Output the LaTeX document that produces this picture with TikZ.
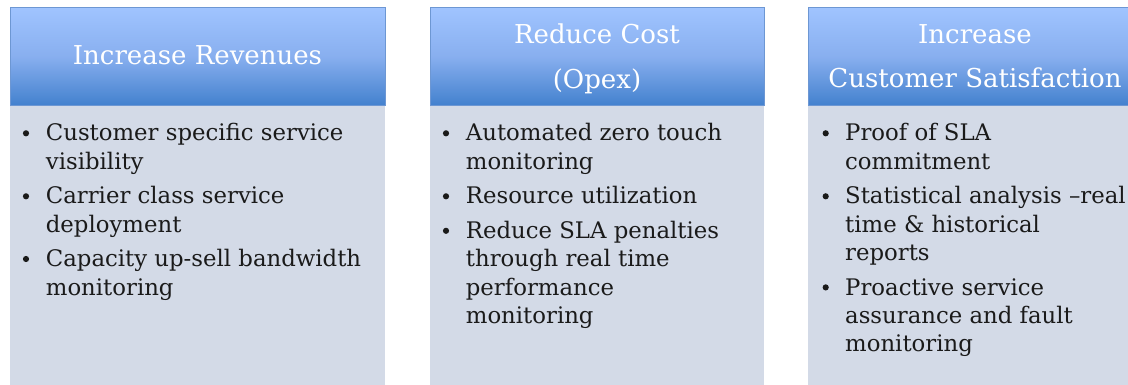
\documentclass[tikz,border=0pt]{standalone}
\usepackage{fontspec}
\setmainfont{DejaVu Serif}
\definecolor{hdtop}{HTML}{A0C4FF}
\definecolor{hdmid}{HTML}{88AFEF}
\definecolor{hdbot}{HTML}{4381CE}
\definecolor{hdline}{HTML}{6D97D3}
\definecolor{bodyfill}{HTML}{D3DAE7}
\definecolor{ink}{HTML}{1A1A1A}
\tikzset{
  header/.style={draw=hdline, line width=0.8pt, top color=hdtop, bottom color=hdbot, middle color=hdmid, inner sep=0pt, anchor=north west},
  bodybox/.style={fill=bodyfill, draw=none, inner sep=0pt, anchor=north west},
  title/.style={text=white, font=\fontsize{26}{30}\selectfont, inner sep=0pt, anchor=base},
  txt/.style={text=ink, font=\fontsize{22.8}{28}\selectfont, inner sep=0pt, anchor=base west},
  dot/.style={circle, fill=ink, draw=none, inner sep=0pt, minimum size=6.2pt, yshift=7.7pt}
}
\begin{document}
\begin{tikzpicture}[x=1pt,y=-1pt]
\useasboundingbox (0,0) rectangle (1128,385);
\clip (0,0) rectangle (1128,385);
% bodies
\node[bodybox, minimum width=375pt, minimum height=282pt] (b1) at (10,104) {};
\node[bodybox, minimum width=334pt, minimum height=282pt] (b2) at (430,104) {};
\node[bodybox, minimum width=334pt, minimum height=282pt] (b3) at (808,104) {};
% headers
\node[header, minimum width=375pt, minimum height=98pt] (h1) at (10,7) {};
\node[header, minimum width=334pt, minimum height=98pt] (h2) at (430,7) {};
\node[header, minimum width=334pt, minimum height=98pt] (h3) at (808,7) {};
% titles
\node[title] (t1) at (197.5,65) {Increase Revenues};
\node[title] (t2a) at (597,43.3) {Reduce Cost};
\node[title] (t2b) at (597,88.5) {(Opex)};
\node[title] (t3a) at (975,43.3) {Increase};
\node[title] (t3b) at (975,88) {Customer Satisfaction};
% column 1
\node[dot] (d11) at (26,141) {};
\node[txt] (l11) at (45.7,141) {Customer specific service};
\node[txt] (l12) at (45.7,169.3) {visibility};
\node[dot] (d12) at (26,204) {};
\node[txt] (l13) at (45.7,204) {Carrier class service};
\node[txt] (l14) at (45.7,232.3) {deployment};
\node[dot] (d13) at (26,266.7) {};
\node[txt] (l15) at (45.7,266.7) {Capacity up-sell bandwidth};
\node[txt] (l16) at (45.7,295) {monitoring};
% column 2
\node[dot] (d21) at (446,141) {};
\node[txt] (l21) at (465.7,141) {Automated zero touch};
\node[txt] (l22) at (465.7,169.3) {monitoring};
\node[dot] (d22) at (446,204) {};
\node[txt] (l23) at (465.7,204) {Resource utilization};
\node[dot] (d23) at (446,238.5) {};
\node[txt] (l24) at (465.7,238.5) {Reduce SLA penalties};
\node[txt] (l25) at (465.7,266.8) {through real time};
\node[txt] (l26) at (465.7,295.1) {performance};
\node[txt] (l27) at (465.7,323.4) {monitoring};
% column 3
\node[dot] (d31) at (825.7,141) {};
\node[txt] (l31) at (845,141) {Proof of SLA};
\node[txt] (l32) at (845,169.3) {commitment};
\node[dot] (d32) at (825.7,204) {};
\node[txt] (l33) at (845,204) {Statistical analysis –real};
\node[txt] (l34) at (845,232.3) {time \& historical};
\node[txt] (l35) at (845,260.6) {reports};
\node[dot] (d33) at (825.7,295.1) {};
\node[txt] (l36) at (845,295.1) {Proactive service};
\node[txt] (l37) at (845,323.4) {assurance and fault};
\node[txt] (l38) at (845,351.7) {monitoring};
\end{tikzpicture}
\end{document}
